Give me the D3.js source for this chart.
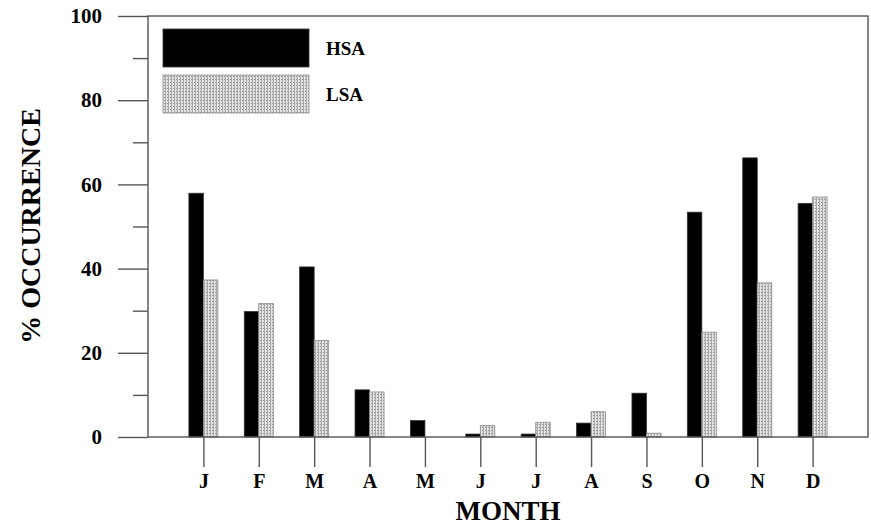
<!DOCTYPE html>
<html>
<head>
<meta charset="utf-8">
<script src="https://cdn.jsdelivr.net/npm/d3@7/dist/d3.min.js"></script>
<style>
  html, body { margin: 0; padding: 0; background: #fff; }
  svg { display: block; }
  text { font-family: "Liberation Serif", "Times New Roman", serif; font-weight: bold; fill: #000; }
</style>
</head>
<body>
<svg id="chart" width="871" height="525"></svg>
<script>
// Monthly occurrence (%) of HSA and LSA
const months = ["J", "F", "M", "A", "M", "J", "J", "A", "S", "O", "N", "D"];
const hsa = [57.9, 29.8, 40.4, 11.2, 3.9, 0.7, 0.7, 3.3, 10.4, 53.4, 66.3, 55.5];
const lsa = [37.3, 31.7, 22.9, 10.7, 0, 2.7, 3.5, 6.0, 0.9, 24.9, 36.6, 57.0];
const seriesNames = ["HSA", "LSA"];
const yMajorTicks = [0, 20, 40, 60, 80, 100];
const yMinorTicks = [10, 30, 50, 70, 90];

const svg = d3.select("#chart");
const plotLeft = 148, plotRight = 868, plotTop = 16, plotBottom = 437;

// Stippled fill used for LSA bars
const defs = svg.append("defs");
const pat = defs.append("pattern")
  .attr("id", "stipple")
  .attr("patternUnits", "userSpaceOnUse")
  .attr("width", 3).attr("height", 3);
pat.append("rect").attr("width", 3).attr("height", 3).attr("fill", "#e2e2e2");
pat.append("rect").attr("x", 0).attr("width", 1).attr("height", 3).attr("fill", "#a8a8a8");
pat.append("rect").attr("x", 2).attr("y", 1).attr("width", 1).attr("height", 1).attr("fill", "#8e8e8e");

// Month positions sit at 1..12 on a 0..13 span
const x = d3.scaleLinear().domain([0, months.length + 1]).range([plotLeft, plotRight]);
const y = d3.scaleLinear().domain([0, 100]).range([plotBottom, plotTop]);
const bw = 14.5;

// Bars
const g = svg.append("g");
g.selectAll("rect.hsa").data(hsa).join("rect")
  .attr("class", "hsa")
  .attr("x", (d, i) => x(i + 1) - bw)
  .attr("width", bw)
  .attr("y", d => y(d))
  .attr("height", d => y(0) - y(d))
  .attr("fill", "#000")
  .attr("stroke", "#333").attr("stroke-width", 0.8);

g.selectAll("rect.lsa").data(lsa).join("rect")
  .attr("class", "lsa")
  .attr("x", (d, i) => x(i + 1))
  .attr("width", bw)
  .attr("y", d => y(d))
  .attr("height", d => y(0) - y(d))
  .attr("fill", "url(#stipple)")
  .attr("stroke", "#8c8c8c").attr("stroke-width", 0.8)
  .attr("display", d => d > 0 ? null : "none");

// Frame
svg.append("rect")
  .attr("x", plotLeft).attr("y", plotTop)
  .attr("width", plotRight - plotLeft).attr("height", plotBottom - plotTop)
  .attr("fill", "none").attr("stroke", "#555").attr("stroke-width", 1.4);

// Y axis: minor and major ticks
const yMinor = svg.append("g").attr("transform", `translate(${plotLeft},0)`)
  .call(d3.axisLeft(y).tickValues(yMinorTicks).tickSize(15).tickFormat(""));
const yMajor = svg.append("g").attr("transform", `translate(${plotLeft},0)`)
  .call(d3.axisLeft(y).tickValues(yMajorTicks).tickSize(30).tickPadding(16).tickFormat(d3.format("d")));
[yMinor, yMajor].forEach(a => {
  a.select(".domain").remove();
  a.selectAll(".tick line").attr("stroke", "#555").attr("stroke-width", 1.4);
});
yMajor.selectAll(".tick text").attr("font-size", 21).attr("fill", "#000")
  .attr("font-family", "Liberation Serif, Times New Roman, serif").attr("font-weight", "bold");

// X axis
const xAxis = svg.append("g").attr("transform", `translate(0,${plotBottom})`)
  .call(d3.axisBottom(x).tickValues(d3.range(1, months.length + 1))
    .tickSize(30).tickPadding(7).tickFormat(d => months[d - 1]));
xAxis.select(".domain").remove();
xAxis.selectAll(".tick line").attr("stroke", "#555").attr("stroke-width", 1.4);
xAxis.selectAll(".tick text").attr("font-size", 20).attr("fill", "#000")
  .attr("font-family", "Liberation Serif, Times New Roman, serif").attr("font-weight", "bold");

// Axis titles
svg.append("text")
  .attr("x", (plotLeft + plotRight) / 2).attr("y", 520)
  .attr("text-anchor", "middle").attr("font-size", 27)
  .text("MONTH");
svg.append("text")
  .attr("transform", "translate(40,226) rotate(-90)")
  .attr("text-anchor", "middle").attr("font-size", 28)
  .text("% OCCURRENCE");

// Legend
const legend = svg.append("g");
const legendFills = ["#000", "url(#stipple)"];
const legendStrokes = ["#333", "#8c8c8c"];
seriesNames.forEach((name, i) => {
  const ly = 29 + i * 46;
  legend.append("rect")
    .attr("x", 163).attr("y", ly).attr("width", 146).attr("height", 38)
    .attr("fill", legendFills[i]).attr("stroke", legendStrokes[i]).attr("stroke-width", 0.8);
  legend.append("text")
    .attr("x", 326).attr("y", ly + 19).attr("dy", "0.35em")
    .attr("font-size", 19)
    .text(name);
});
</script>
</body>
</html>
